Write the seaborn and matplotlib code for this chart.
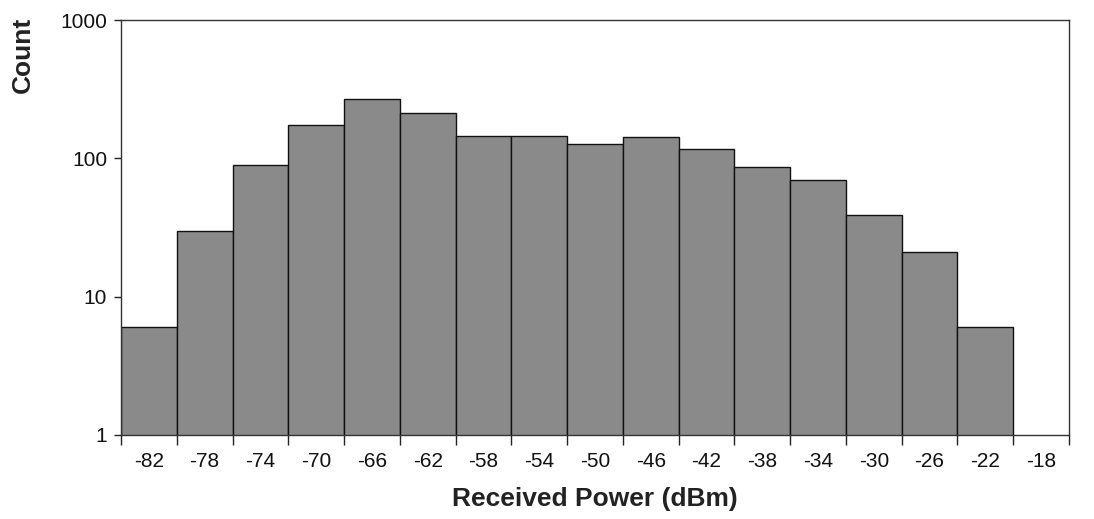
import matplotlib
matplotlib.use("Agg")
import matplotlib.pyplot as plt
import seaborn as sns
import pandas as pd
import numpy as np

bins = ["-82", "-78", "-74", "-70", "-66", "-62", "-58", "-54", "-50",
        "-46", "-42", "-38", "-34", "-30", "-26", "-22", "-18"]
counts = [6, 30, 90, 173, 268, 214, 146, 146, 128,
          142, 117, 86, 70, 39, 21, 6, 0]

sns.set_theme(style="white")
plt.rcParams['font.family'] = ['Liberation Sans', 'DejaVu Sans']

df = pd.DataFrame({"bin": bins, "count": counts})

fig = plt.figure(figsize=(10.94, 5.19), dpi=100)
ax = fig.add_axes([121/1094, 1 - 435/519, (1069-121)/1094, (435-20)/519])

sns.barplot(data=df, x="bin", y="count", order=bins, color="#8a8a8a",
            saturation=1, width=1.0, edgecolor="#111111", linewidth=1.0, ax=ax)

ax.set_yscale("log")
ax.set_ylim(1, 1000)
ax.set_xlim(-0.5, len(bins) - 0.5)

ax.set_yticks([1, 10, 100, 1000])
ax.set_yticklabels(["1", "10", "100", "1000"])
ax.yaxis.set_minor_locator(matplotlib.ticker.NullLocator())

n = len(bins)
ax.set_xticks(np.arange(n + 1) - 0.5)
ax.set_xticklabels([])
ax.set_xticks(np.arange(n), minor=True)
ax.set_xticklabels(bins, minor=True)

ax.tick_params(axis="x", which="major", direction="out", length=7, width=1, color="#222222")
ax.tick_params(axis="x", which="minor", length=0, pad=12, labelsize=15, labelcolor="#111111")
ax.tick_params(axis="y", which="major", direction="out", length=5, width=1, color="#222222",
               labelsize=15, labelcolor="#111111", pad=5)
ax.tick_params(bottom=True, left=True)

for s in ax.spines.values():
    s.set_visible(True)
    s.set_color("#333333")
    s.set_linewidth(1.0)

ax.set_xlabel("Received Power (dBm)", fontsize=19, fontweight="bold", color="#222222")
ax.set_ylabel("Count", fontsize=19, fontweight="bold", color="#222222")
ax.xaxis.set_label_coords(0.5, -0.125)
ax.yaxis.set_label_coords(-0.0905, 0.915)

fig.savefig("out.png", dpi=100, facecolor="white")
